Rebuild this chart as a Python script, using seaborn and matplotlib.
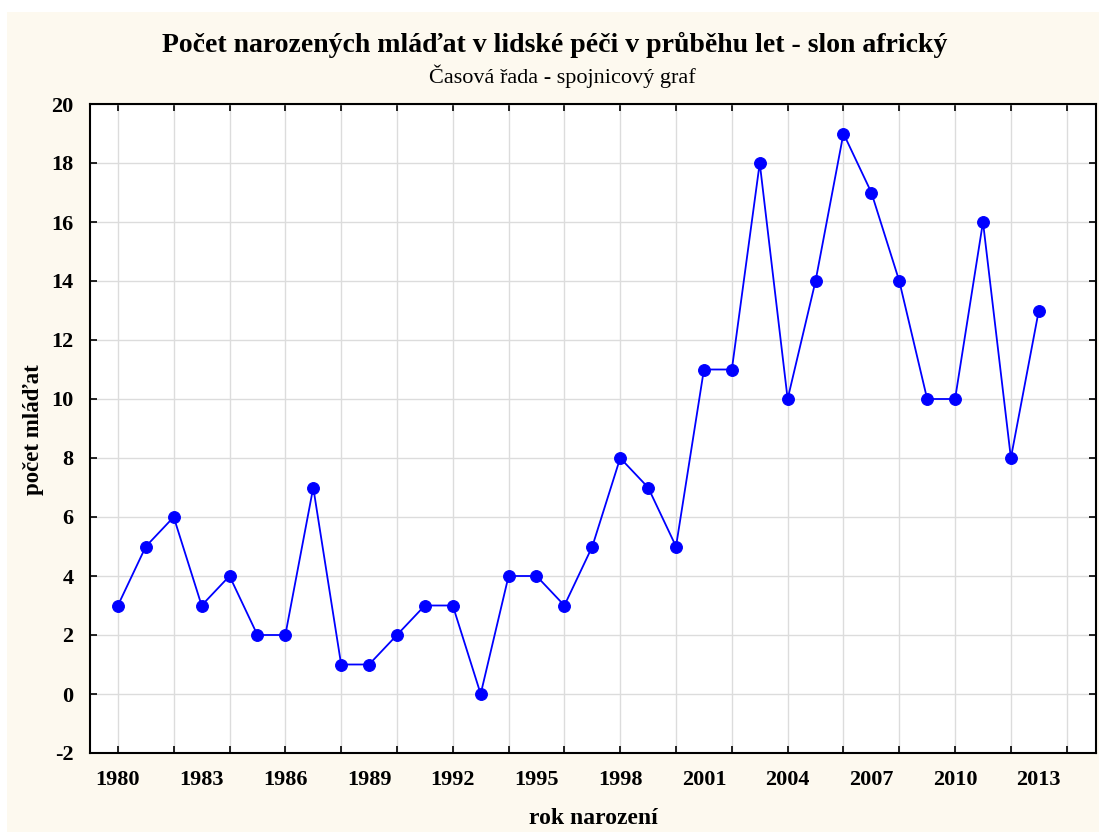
import matplotlib

matplotlib.use("Agg")
import matplotlib.pyplot as plt
import pandas as pd
import seaborn as sns
from matplotlib.patches import Rectangle
from matplotlib.ticker import MultipleLocator

years = list(range(1980, 2014))
births = [3, 5, 6, 3, 4, 2, 2, 7, 1, 1, 2, 3, 3, 0, 4, 4, 3, 5, 8, 7, 5,
          11, 11, 18, 10, 14, 19, 17, 14, 10, 10, 16, 8, 13]

title = "Počet narozených mláďat v lidské péči v průběhu let - slon africký"
subtitle = "Časová řada - spojnicový graf"
x_label = "rok narození"
y_label = "počet mláďat"

frame = pd.DataFrame({"rok": years, "pocet": births})

sns.set_theme(style="whitegrid")
plt.rcParams["font.family"] = ["Liberation Serif", "DejaVu Serif"]
plt.rcParams["axes.unicode_minus"] = False
plt.rcParams["text.color"] = "black"
plt.rcParams["xtick.color"] = "black"
plt.rcParams["ytick.color"] = "black"
plt.rcParams["xtick.labelcolor"] = "black"
plt.rcParams["ytick.labelcolor"] = "black"

figure = plt.figure(figsize=(10.99, 8.32), dpi=100, facecolor="white")
figure.patches.append(
    Rectangle((7 / 1099, 0), 1 - 7 / 1099, 1 - 12 / 832, transform=figure.transFigure,
              facecolor="#fdf9ef", edgecolor="none", zorder=-1)
)
axis = figure.add_axes([90 / 1099, 1 - 753 / 832, (1096 - 90) / 1099, (753 - 104) / 832])
axis.set_facecolor("white")

sns.lineplot(data=frame, x="rok", y="pocet", ax=axis, color="#0000ff", linewidth=1.3,
             marker="o", markersize=8.5, markeredgecolor="#0000ff", markerfacecolor="#0000ff")

axis.set_xlim(1979, 2015.05)
axis.set_ylim(-2, 20)
axis.xaxis.set_major_locator(MultipleLocator(3))
axis.xaxis.set_minor_locator(MultipleLocator(2))
axis.xaxis.remove_overlapping_locs = False
axis.yaxis.set_major_locator(MultipleLocator(2))

axis.grid(False)
axis.grid(True, axis="x", which="minor", color="#dcdcdc", linewidth=1)
axis.grid(True, axis="y", which="major", color="#dcdcdc", linewidth=1)
axis.set_axisbelow(True)

axis.tick_params(axis="x", which="major", length=0, pad=12, labelsize=16)
axis.tick_params(axis="x", which="minor", direction="in", length=5, width=1.2,
                 top=True, bottom=True, color="black")
axis.tick_params(axis="y", which="major", direction="in", length=5, width=1.2,
                 left=True, right=True, pad=12, labelsize=16, color="black")
for label in axis.get_xticklabels() + axis.get_yticklabels():
    label.set_fontweight("bold")

for spine in axis.spines.values():
    spine.set_visible(True)
    spine.set_color("black")
    spine.set_linewidth(1.5)

axis.set_xlabel("")
axis.set_ylabel("")
figure.text(593 / 1099, 1 - 818 / 832, x_label, ha="center", va="center",
            fontsize=17, fontweight="bold")
figure.text(33 / 1099, 1 - 430 / 832, y_label, ha="center", va="center",
            rotation=90, fontsize=16.5, fontweight="bold")
figure.text(555 / 1099, 1 - 45 / 832, title, ha="center", va="center",
            fontsize=20, fontweight="bold")
figure.text(562 / 1099, 1 - 76 / 832, subtitle, ha="center", va="center", fontsize=16)

figure.savefig("out.png", dpi=100, facecolor="white")
plt.close(figure)
